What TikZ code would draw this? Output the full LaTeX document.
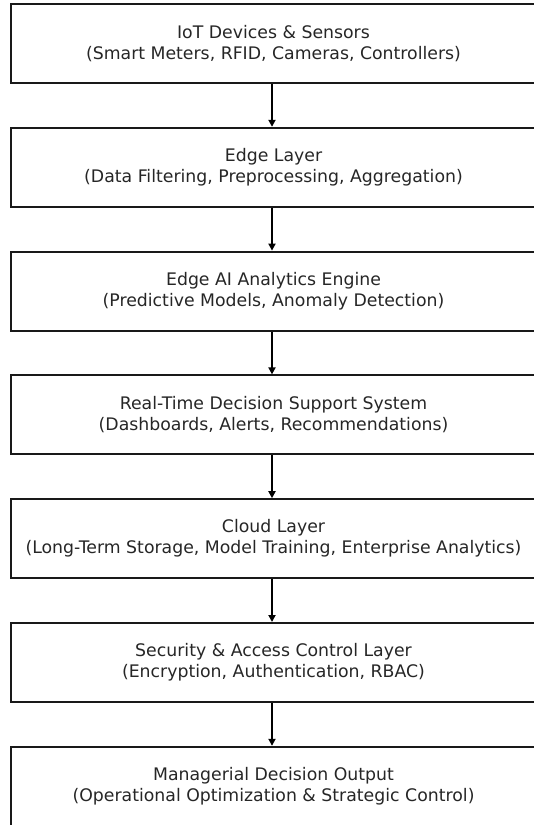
\documentclass[tikz,border=0pt]{standalone}
\usepackage{fontspec}
\setmainfont{DejaVu Sans}
\usetikzlibrary{arrows.meta}
\begin{document}
\begin{tikzpicture}[x=1pt,y=-1pt,
  layerbox/.style={draw=black!90, line width=2pt, minimum width=525pt, minimum height=79pt, align=center, inner sep=0pt, font=\fontsize{17.3}{21}\selectfont, text=black!85},
  flow/.style={draw=black, line width=2pt, -{Triangle[length=7pt,width=7pt]}}]
\useasboundingbox (0,0) rectangle (534,825);
\node[layerbox] (b1) at (273.5,43.5) {IoT Devices \& Sensors\\(Smart Meters, RFID, Cameras, Controllers)};
\node[layerbox] (b2) at (273.5,167.3) {Edge Layer\\(Data Filtering, Preprocessing, Aggregation)};
\node[layerbox] (b3) at (273.5,291.1) {Edge AI Analytics Engine\\(Predictive Models, Anomaly Detection)};
\node[layerbox] (b4) at (273.5,414.9) {Real-Time Decision Support System\\(Dashboards, Alerts, Recommendations)};
\node[layerbox] (b5) at (273.5,538.7) {Cloud Layer\\(Long-Term Storage, Model Training, Enterprise Analytics)};
\node[layerbox] (b6) at (273.5,662.5) {Security \& Access Control Layer\\(Encryption, Authentication, RBAC)};
\node[layerbox] (b7) at (273.5,786.3) {Managerial Decision Output\\(Operational Optimization \& Strategic Control)};
\foreach \a/\b in {b1/b2,b2/b3,b3/b4,b4/b5,b5/b6,b6/b7}
  \draw[flow] ([xshift=-1.5pt]\a.south) -- ([xshift=-1.5pt]\b.north);
\end{tikzpicture}
\end{document}
